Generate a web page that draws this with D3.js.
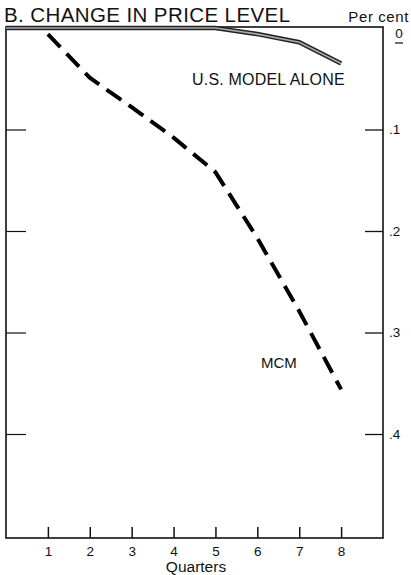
<!DOCTYPE html>
<html>
<head>
<meta charset="utf-8">
<script src="https://cdn.jsdelivr.net/npm/d3@7"></script>
<style>
  body { margin: 0; background: #fff; }
  text { font-family: "Liberation Sans", Arial, sans-serif; fill: #111; }
</style>
</head>
<body>
<svg width="411" height="575"></svg>
<script>
// data (per cent, drawn downward)
const quarters = [0, 1, 2, 3, 4, 5, 6, 7, 8];
const usModel = [0, 0, 0, 0, 0, 0, 0.006, 0.014, 0.035];
const mcmQuarters = [1, 2, 3, 4, 5, 6, 7, 8];
const mcm = [0.006, 0.049, 0.078, 0.108, 0.142, 0.207, 0.279, 0.356];
const xTicks = [1, 2, 3, 4, 5, 6, 7, 8];
const yTicks = [0.1, 0.2, 0.3, 0.4];

const svg = d3.select('svg');

const plotL = 6, plotR = 383, plotT = 28, plotB = 538;

const x = d3.scaleLinear().domain([0, 9]).range([plotL, plotR]);
const y = d3.scaleLinear().domain([0, 0.5]).range([plotT, plotT + 507.5]);

// frame
svg.append('rect')
  .attr('x', plotL).attr('y', plotT - 1)
  .attr('width', plotR - plotL).attr('height', plotB - plotT + 1)
  .attr('fill', 'none').attr('stroke', '#111').attr('stroke-width', 1.6);

// bottom ticks pointing up
const xAxis = svg.append('g')
  .attr('transform', `translate(0,${plotB})`)
  .call(d3.axisBottom(x).tickValues(xTicks).tickSize(-11).tickPadding(8).tickFormat(d3.format('d')));
xAxis.select('.domain').remove();
xAxis.selectAll('line').attr('stroke', '#111').attr('stroke-width', 1.5);
xAxis.selectAll('text').attr('font-size', 13.5).attr('fill', '#111')
  .style('font-family', '"Liberation Sans", Arial, sans-serif');

// right axis, ticks inward, labels outside
const yAxis = svg.append('g')
  .attr('transform', `translate(${plotR},0)`)
  .call(d3.axisRight(y).tickValues(yTicks).tickSize(-18).tickPadding(6)
    .tickFormat(d => d3.format('.1f')(d).replace(/^0/, '')));
yAxis.select('.domain').remove();
yAxis.selectAll('line').attr('stroke', '#111').attr('stroke-width', 1.3);
yAxis.selectAll('text').attr('font-size', 13.5).attr('fill', '#111')
  .style('font-family', '"Liberation Sans", Arial, sans-serif');

// left axis, ticks only
const yAxisL = svg.append('g')
  .attr('transform', `translate(${plotL},0)`)
  .call(d3.axisRight(y).tickValues(yTicks).tickSize(20).tickFormat(''));
yAxisL.select('.domain').remove();
yAxisL.selectAll('line').attr('stroke', '#111').attr('stroke-width', 1.2);

// zero label with its little dash
svg.append('text')
  .attr('x', plotR + 16).attr('y', y(0) + 10)
  .attr('text-anchor', 'middle').attr('font-size', 13.5)
  .text('0');
svg.append('line')
  .attr('x1', plotR + 12).attr('x2', plotR + 20)
  .attr('y1', y(0) + 15).attr('y2', y(0) + 15)
  .attr('stroke', '#111').attr('stroke-width', 1.2);

const line = d3.line().x(d => x(d[0])).y(d => y(d[1]));

// U.S. model alone: hollow double line
const usPts = quarters.map((q, i) => [q, usModel[i]]);
svg.append('path')
  .attr('d', line(usPts))
  .attr('fill', 'none').attr('stroke', '#222').attr('stroke-width', 4.5);
svg.append('path')
  .attr('d', line(usPts))
  .attr('fill', 'none').attr('stroke', '#aaa').attr('stroke-width', 1.6);

// MCM: heavy dashes
svg.append('path')
  .attr('d', line(mcmQuarters.map((q, i) => [q, mcm[i]])))
  .attr('fill', 'none').attr('stroke', '#000').attr('stroke-width', 4)
  .attr('stroke-dasharray', '18,9');

// titles and labels
svg.append('text')
  .attr('x', 4).attr('y', 22)
  .attr('font-size', 20.5)
  .attr('letter-spacing', 0.4)
  .text('B. CHANGE IN PRICE LEVEL');

svg.append('text')
  .attr('x', 409).attr('y', 22)
  .attr('text-anchor', 'end').attr('font-size', 15)
  .attr('letter-spacing', 0.6)
  .text('Per cent');

svg.append('text')
  .attr('x', 192).attr('y', 85)
  .attr('font-size', 16)
  .attr('letter-spacing', 0.2)
  .text('U.S. MODEL ALONE');

svg.append('text')
  .attr('x', 261).attr('y', 368)
  .attr('font-size', 15)
  .text('MCM');

svg.append('text')
  .attr('x', 196).attr('y', 572)
  .attr('text-anchor', 'middle').attr('font-size', 15.5)
  .text('Quarters');
</script>
</body>
</html>
